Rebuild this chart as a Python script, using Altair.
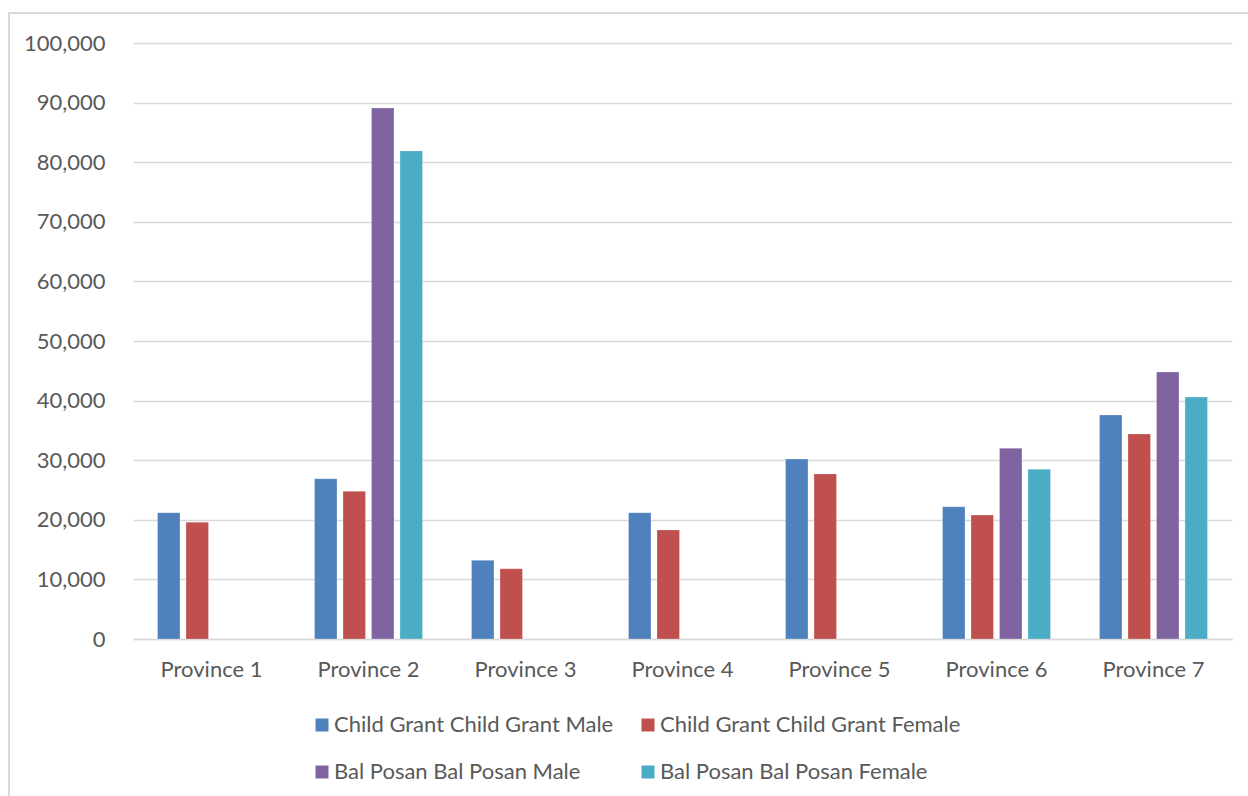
import altair as alt
import pandas as pd

provinces = ["Province 1", "Province 2", "Province 3", "Province 4", "Province 5", "Province 6", "Province 7"]
series = ["Child Grant Child Grant Male", "Child Grant Child Grant Female",
          "Bal Posan Bal Posan Male", "Bal Posan Bal Posan Female"]
colors = ["#4F81BD", "#C0504D", "#8064A2", "#4BACC6"]

cg_male = [21200, 26900, 13200, 21200, 30200, 22200, 37600]
cg_female = [19600, 24800, 11800, 18300, 27700, 20800, 34400]
bp_male = [None, 89100, None, None, None, 32000, 44800]
bp_female = [None, 81900, None, None, None, 28500, 40600]

rows = []
for i, p in enumerate(provinces):
    for s, vals in zip(series, [cg_male, cg_female, bp_male, bp_female]):
        if vals[i] is not None:
            rows.append({"Province": p, "Series": s, "Value": vals[i]})
df = pd.DataFrame(rows)

FONT = "Lato"
TXT = "#595959"

bars = alt.Chart(df).mark_bar(stroke="white", strokeWidth=0.5, strokeOpacity=0.5).encode(
    x=alt.X("Province:N", sort=provinces, title=None,
            scale=alt.Scale(paddingInner=0, paddingOuter=0),
            axis=alt.Axis(labelAngle=0, labelFont=FONT, labelFontSize=22, labelColor=TXT,
                          ticks=False, domainColor="#D9D9D9", domainWidth=1.5, labelPadding=20)),
    xOffset=alt.XOffset("Series:N", sort=series,
                        scale=alt.Scale(paddingInner=0.21, paddingOuter=0.86)),
    y=alt.Y("Value:Q", title=None,
            scale=alt.Scale(domain=[0, 100000], nice=False),
            axis=alt.Axis(values=list(range(0, 100001, 10000)), format=",.0f", labelFont=FONT,
                          labelFontSize=22, labelColor=TXT, ticks=False, domain=False,
                          gridColor="#D9D9D9", gridWidth=1.5, labelPadding=28)),
    color=alt.Color("Series:N", sort=series,
                    scale=alt.Scale(domain=series, range=colors),
                    legend=alt.Legend(title=None, orient="none", legendX=178, legendY=671,
                                      columns=2, direction="horizontal",
                                      symbolType="square", symbolSize=169, symbolStrokeWidth=0,
                                      labelFont=FONT, labelFontSize=22, labelColor=TXT,
                                      labelOffset=1, columnPadding=23, rowPadding=25,
                                      labelLimit=500)),
)

frame = alt.Chart(df).mark_rect(fill=None, stroke="#D9D9D9", strokeWidth=1.5).encode(
    x=alt.value(-124), x2=alt.value(1400), y=alt.value(-30), y2=alt.value(900)
)

chart = alt.layer(frame, bars).properties(
    width=1099, height=596,
    autosize=alt.AutoSizeParams(type="none"),
    padding={"left": 133, "top": 43, "right": 16, "bottom": 157},
    background="white",
).configure_view(stroke=None)

chart.save("out.html", embed_options={"renderer": "svg", "actions": False})
